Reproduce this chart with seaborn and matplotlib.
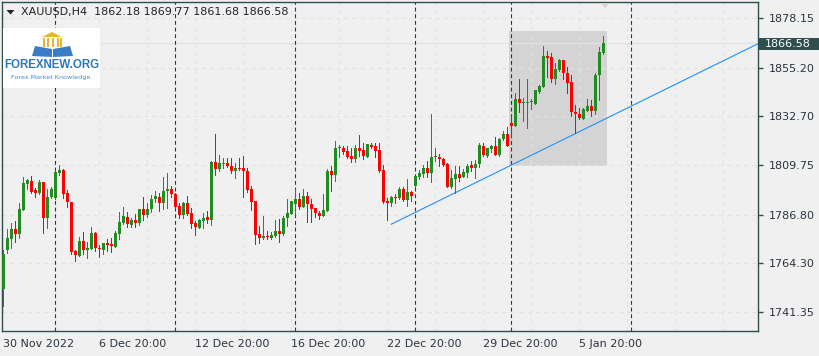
import matplotlib
matplotlib.use("Agg")
import matplotlib.pyplot as plt
from matplotlib.patches import Rectangle, Polygon
import seaborn as sns
import numpy as np

# Style and colors
sns.set_style("white")
plt.rcParams.update({'font.size': 8, 'font.family': 'DejaVu Sans'})
bg = '#f0f0f0'
frame = '#2f4f4f'
bull = '#228b22'
bear = '#ff0000'

# XAUUSD H4 candles
opens = [1752.4, 1770.3, 1775.6, 1780.1, 1777.9, 1789.1, 1801.2, 1802.4, 1798.3, 1796.9,
         1802.0, 1785.4, 1795.0, 1794.5, 1806.0, 1807.6, 1796.9, 1792.7, 1769.9, 1767.7,
         1774.5, 1770.5, 1771.0, 1778.2, 1771.3, 1770.3, 1773.6, 1773.1, 1771.9, 1777.9,
         1782.9, 1785.7, 1782.1, 1784.5, 1783.1, 1789.4, 1786.6, 1789.4, 1793.9, 1795.0,
         1792.4, 1798.0, 1798.7, 1796.6, 1790.8, 1786.6, 1792.2, 1787.6, 1782.9, 1780.7,
         1783.8, 1785.5, 1784.5, 1811.3, 1808.2, 1810.4, 1811.0, 1809.6, 1807.1, 1808.3,
         1808.5, 1807.1, 1798.7, 1793.1, 1777.8, 1775.9, 1776.9, 1775.9, 1776.9, 1779.2,
         1777.6, 1785.4, 1787.2, 1791.7, 1794.1, 1790.5, 1795.5, 1791.7, 1789.7, 1787.7,
         1786.3, 1788.6, 1806.9, 1805.4, 1817.8, 1817.6, 1816.6, 1814.2, 1812.8, 1817.6,
         1817.0, 1813.8, 1819.2, 1818.9, 1816.9, 1807.6, 1793.1, 1792.4, 1794.8, 1794.5,
         1798.7, 1793.6, 1797.3, 1800.1, 1804.5, 1805.7, 1808.3, 1806.3, 1813.5, 1813.6,
         1812.8, 1810.5, 1799.8, 1803.5, 1805.7, 1804.3, 1806.0, 1809.9, 1808.3, 1810.4,
         1818.9, 1814.2, 1817.5, 1818.9, 1814.5, 1821.8, 1824.2, 1829.3, 1828.2, 1840.6,
         1838.6, 1838.6, 1839.2, 1838.4, 1843.7, 1846.0, 1860.6, 1860.3, 1849.8, 1853.9,
         1858.8, 1852.9, 1848.5, 1834.6, 1833.8, 1831.4, 1835.2, 1837.4, 1835.2, 1851.8,
         1862.18]
highs = [1770.3, 1780.1, 1782.9, 1783.8, 1792.4, 1804.3, 1803.5, 1804.8, 1799.2, 1802.9,
         1802.0, 1798.6, 1799.7, 1807.3, 1809.9, 1807.9, 1798.1, 1792.7, 1770.5, 1776.2,
         1778.7, 1774.1, 1781.0, 1778.9, 1772.7, 1773.6, 1775.6, 1775.9, 1779.2, 1788.0,
         1790.3, 1788.0, 1785.1, 1786.9, 1789.4, 1794.8, 1792.2, 1795.8, 1797.8, 1797.0,
         1804.3, 1806.2, 1800.1, 1797.0, 1792.4, 1792.8, 1795.6, 1789.7, 1783.7, 1784.8,
         1787.4, 1788.6, 1811.9, 1824.3, 1814.5, 1813.3, 1813.0, 1813.1, 1810.7, 1813.3,
         1814.2, 1808.6, 1800.3, 1793.1, 1781.5, 1786.2, 1779.2, 1778.6, 1784.3, 1784.8,
         1786.0, 1794.1, 1793.1, 1798.7, 1796.9, 1798.7, 1797.2, 1794.1, 1790.0, 1788.6,
         1796.4, 1808.0, 1809.4, 1821.1, 1819.4, 1818.7, 1818.7, 1817.8, 1819.4, 1823.9,
         1820.0, 1819.7, 1820.0, 1820.0, 1820.0, 1809.9, 1794.7, 1795.5, 1796.2, 1799.5,
         1799.8, 1803.4, 1797.8, 1804.9, 1807.6, 1809.9, 1811.7, 1833.6, 1817.8, 1814.9,
         1813.1, 1810.7, 1807.6, 1809.6, 1809.3, 1808.0, 1810.4, 1811.9, 1812.2, 1820.1,
         1820.0, 1817.9, 1819.2, 1822.8, 1822.3, 1825.7, 1827.7, 1832.7, 1843.2, 1849.9,
         1840.9, 1849.8, 1840.8, 1844.9, 1847.1, 1865.3, 1862.9, 1861.8, 1857.2, 1859.2,
         1858.8, 1855.6, 1851.6, 1837.7, 1836.3, 1836.3, 1840.8, 1840.1, 1852.9, 1864.9,
         1869.77]
lows = [1744.3, 1769.1, 1771.4, 1774.2, 1775.9, 1789.1, 1798.9, 1796.7, 1795.2, 1796.2,
        1778.4, 1780.7, 1794.4, 1794.2, 1805.2, 1794.7, 1790.5, 1768.6, 1765.4, 1767.7,
        1768.5, 1766.8, 1771.0, 1770.0, 1767.2, 1768.6, 1770.0, 1769.6, 1771.9, 1775.6,
        1782.3, 1781.2, 1781.2, 1781.2, 1781.8, 1784.3, 1785.8, 1788.2, 1792.5, 1788.6,
        1789.3, 1790.0, 1794.8, 1789.7, 1785.2, 1785.1, 1786.5, 1780.6, 1777.3, 1780.7,
        1780.7, 1782.7, 1782.1, 1805.1, 1807.3, 1808.6, 1809.0, 1806.3, 1804.0, 1807.6,
        1795.2, 1797.5, 1788.9, 1773.3, 1773.8, 1775.5, 1775.5, 1775.3, 1776.5, 1773.9,
        1777.3, 1781.5, 1787.0, 1787.4, 1789.3, 1790.5, 1783.5, 1783.5, 1785.9, 1784.6,
        1786.3, 1788.6, 1797.9, 1802.6, 1813.8, 1814.9, 1813.0, 1811.4, 1811.4, 1814.2,
        1812.5, 1813.6, 1817.6, 1813.5, 1806.6, 1792.1, 1784.3, 1791.0, 1792.4, 1794.1,
        1793.1, 1791.0, 1793.1, 1799.8, 1803.2, 1804.5, 1804.3, 1802.1, 1811.9, 1809.4,
        1809.6, 1799.5, 1799.3, 1796.7, 1802.6, 1804.3, 1804.5, 1807.3, 1803.8, 1809.1,
        1814.2, 1813.5, 1816.1, 1814.4, 1814.2, 1821.4, 1818.9, 1823.1, 1828.2, 1834.4,
        1830.5, 1827.3, 1835.8, 1838.1, 1843.2, 1846.0, 1851.0, 1848.7, 1847.4, 1853.6,
        1849.9, 1843.2, 1832.7, 1824.6, 1831.4, 1831.1, 1835.2, 1832.7, 1833.6, 1840.1,
        1861.68]
closes = [1768.5, 1775.9, 1780.1, 1777.9, 1789.3, 1801.5, 1802.9, 1797.5, 1796.9, 1802.0,
          1785.4, 1795.0, 1798.7, 1806.6, 1807.6, 1796.6, 1792.5, 1769.6, 1768.2, 1774.7,
          1770.5, 1771.4, 1778.2, 1771.4, 1771.0, 1773.6, 1772.7, 1772.2, 1778.3, 1783.2,
          1786.2, 1782.3, 1784.3, 1783.1, 1789.4, 1786.6, 1789.3, 1794.1, 1795.5, 1792.4,
          1797.8, 1798.7, 1796.6, 1790.5, 1786.8, 1792.4, 1787.1, 1782.6, 1781.2, 1784.3,
          1785.4, 1784.5, 1811.3, 1808.2, 1810.8, 1810.8, 1809.6, 1807.1, 1808.5, 1807.9,
          1807.1, 1798.4, 1792.8, 1777.3, 1776.1, 1776.9, 1776.5, 1777.3, 1779.2, 1777.9,
          1785.4, 1787.6, 1793.1, 1794.1, 1790.5, 1795.5, 1791.7, 1789.6, 1787.4, 1786.3,
          1788.9, 1806.9, 1805.4, 1817.8, 1818.4, 1815.9, 1813.8, 1812.8, 1817.6, 1816.4,
          1814.1, 1819.5, 1818.3, 1816.4, 1807.3, 1792.7, 1792.4, 1795.0, 1794.4, 1798.7,
          1793.6, 1797.2, 1795.6, 1804.8, 1806.3, 1808.7, 1806.0, 1813.6, 1814.2, 1812.7,
          1809.9, 1799.8, 1803.8, 1805.7, 1803.8, 1806.6, 1809.4, 1808.3, 1810.4, 1819.4,
          1814.5, 1817.9, 1818.9, 1814.5, 1822.0, 1824.2, 1818.9, 1828.2, 1840.6, 1838.6,
          1839.1, 1839.2, 1839.8, 1844.6, 1846.6, 1860.6, 1859.8, 1849.8, 1854.7, 1858.8,
          1852.5, 1848.2, 1834.6, 1833.8, 1831.9, 1835.8, 1837.4, 1835.2, 1851.8, 1862.6,
          1866.58]

price_ticks = [1741.35, 1764.30, 1786.80, 1809.75, 1832.70, 1855.20, 1878.15]
time_ticks = [0, 24, 48, 72, 96, 120, 144]
time_labels = ["30 Nov 2022", "6 Dec 20:00", "12 Dec 20:00", "16 Dec 20:00",
               "22 Dec 20:00", "29 Dec 20:00", "5 Jan 20:00"]
week_breaks = [13, 43, 73, 103, 127, 157]
grid_x = [24, 36, 48, 60, 72, 84, 96, 108, 120, 132, 144, 156, 168, 180]
trend_x = [96.9, 188.6]
trend_y = [1782.3, 1866.3]
box_x = [126.4, 150.9]
box_y = [1809.6, 1872.2]
header = "XAUUSD,H4  1862.18 1869.77 1861.68 1866.58"
last_price = 1866.58

W, H = 820, 356


def fx(px):
    return px / W


def fy(py):
    return 1 - py / H


fig = plt.figure(figsize=(W / 100, H / 100), dpi=100, facecolor=bg)
ax = fig.add_axes([fx(2), fy(331), (758 - 2) / W, (331 - 2) / H])
ax.set_facecolor(bg)
ax.set_xlim(-0.375, 188.625)
ax.set_ylim(1732.65, 1885.74)

# grid, drawn over the rectangle so it shows lighter inside it
for p in price_ticks:
    ax.axhline(p, color='#e2e2e2', lw=0.75, ls=(0, (4, 4)), zorder=1.5)
for g in grid_x:
    ax.axvline(g, color='#e2e2e2', lw=0.75, ls=(0, (4, 4)), zorder=1.5)
ax.axhline(last_price, color='#e3e3e3', lw=0.75, zorder=1.4)

ax.add_patch(Rectangle((box_x[0], box_y[0]), box_x[1] - box_x[0], box_y[1] - box_y[0],
                       facecolor='#d4d4d4', edgecolor='none', zorder=1))

for b in week_breaks:
    ax.axvline(b, color='#2b3a3a', lw=0.8, ls=(0, (3.5, 2.5)), zorder=2)

# trend line
sns.lineplot(x=trend_x, y=trend_y, ax=ax, color='#1e90ff', lw=0.8, zorder=2.5)

# candles
o = np.array(opens)
c = np.array(closes)
idx = np.arange(len(o))
cols = [bull if cc >= oo else bear for oo, cc in zip(o, c)]
ax.vlines(idx, lows, highs, colors=cols, lw=0.72, zorder=3, antialiased=False)
body = np.maximum(np.abs(c - o), 0.45)
ax.bar(idx, body, bottom=np.minimum(o, c), width=0.72, color=cols, linewidth=0, zorder=3.5)

# axes styling
for s in ax.spines.values():
    s.set_color(frame)
    s.set_linewidth(1)
ax.yaxis.tick_right()
ax.set_yticks(price_ticks)
ax.set_yticklabels([f"{p:.2f}" for p in price_ticks])
ax.set_xticks(time_ticks)
ax.set_xticklabels(time_labels)
for lbl in ax.get_xticklabels():
    lbl.set_ha('left')
ax.tick_params(axis='both', colors=frame, labelcolor='#2a3440', labelsize=8,
               length=3.5, width=1, direction='out')
ax.tick_params(axis='x', pad=2)
ax.tick_params(axis='y', pad=4)
ax.set_xlabel("")
ax.set_ylabel("")

# current price tag
fig.patches.append(Rectangle((fx(759), fy(49.5)), fx(61), 11.8 / H, transform=fig.transFigure,
                             facecolor=frame, edgecolor='none', zorder=5))
fig.text(fx(765), fy(43.6), f"{last_price:.2f}", color='white', fontsize=8, va='center', zorder=6)

# header
fig.patches.append(Polygon([(fx(6.5), fy(10)), (fx(14.5), fy(10)), (fx(10.5), fy(14.5))],
                           closed=True, transform=fig.transFigure, facecolor='#222222',
                           edgecolor='none', zorder=5))
fig.text(fx(21), fy(12.5), header, fontsize=8, color='#222222', va='center')
fig.patches.append(Polygon([(fx(600), fy(3)), (fx(610), fy(3)), (fx(605), fy(8))],
                           closed=True, transform=fig.transFigure, facecolor='#d6d6d6',
                           edgecolor='none', zorder=5))

# logo card
fig.patches.append(Rectangle((fx(3), fy(88)), fx(97), 60 / H, transform=fig.transFigure,
                             facecolor='white', edgecolor='none', zorder=5))
gold = '#e8b62c'
blue_logo = '#3a7cc6'
fig.patches.append(Polygon([(fx(42), fy(37)), (fx(62), fy(37)), (fx(52), fy(32))],
                           closed=True, transform=fig.transFigure, facecolor=gold,
                           edgecolor='none', zorder=6))
for cx in [44, 48.5, 53, 57.5, 61]:
    fig.patches.append(Rectangle((fx(cx - 1), fy(47)), fx(2), 9 / H,
                                 transform=fig.transFigure, facecolor=gold,
                                 edgecolor='none', zorder=6))
fig.patches.append(Polygon([(fx(32), fy(56)), (fx(52), fy(57)), (fx(52), fy(49)),
                            (fx(35), fy(46))], closed=True, transform=fig.transFigure,
                           facecolor=blue_logo, edgecolor='none', zorder=6))
fig.patches.append(Polygon([(fx(73), fy(56)), (fx(53), fy(57)), (fx(53), fy(49)),
                            (fx(70), fy(46))], closed=True, transform=fig.transFigure,
                           facecolor=blue_logo, edgecolor='none', zorder=6))
fig.text(fx(52), fy(64.5), "FOREXNEW.ORG", family='Liberation Sans', weight='bold',
         fontsize=8.3, color='#2a78bf', ha='center', va='center', zorder=7)
fig.text(fx(52), fy(77.5), "Forex Market Knowledge.", fontsize=4.6, color='#3e8ad0',
         ha='center', va='center', zorder=7)

fig.savefig("out.png", dpi=100, facecolor=bg)
